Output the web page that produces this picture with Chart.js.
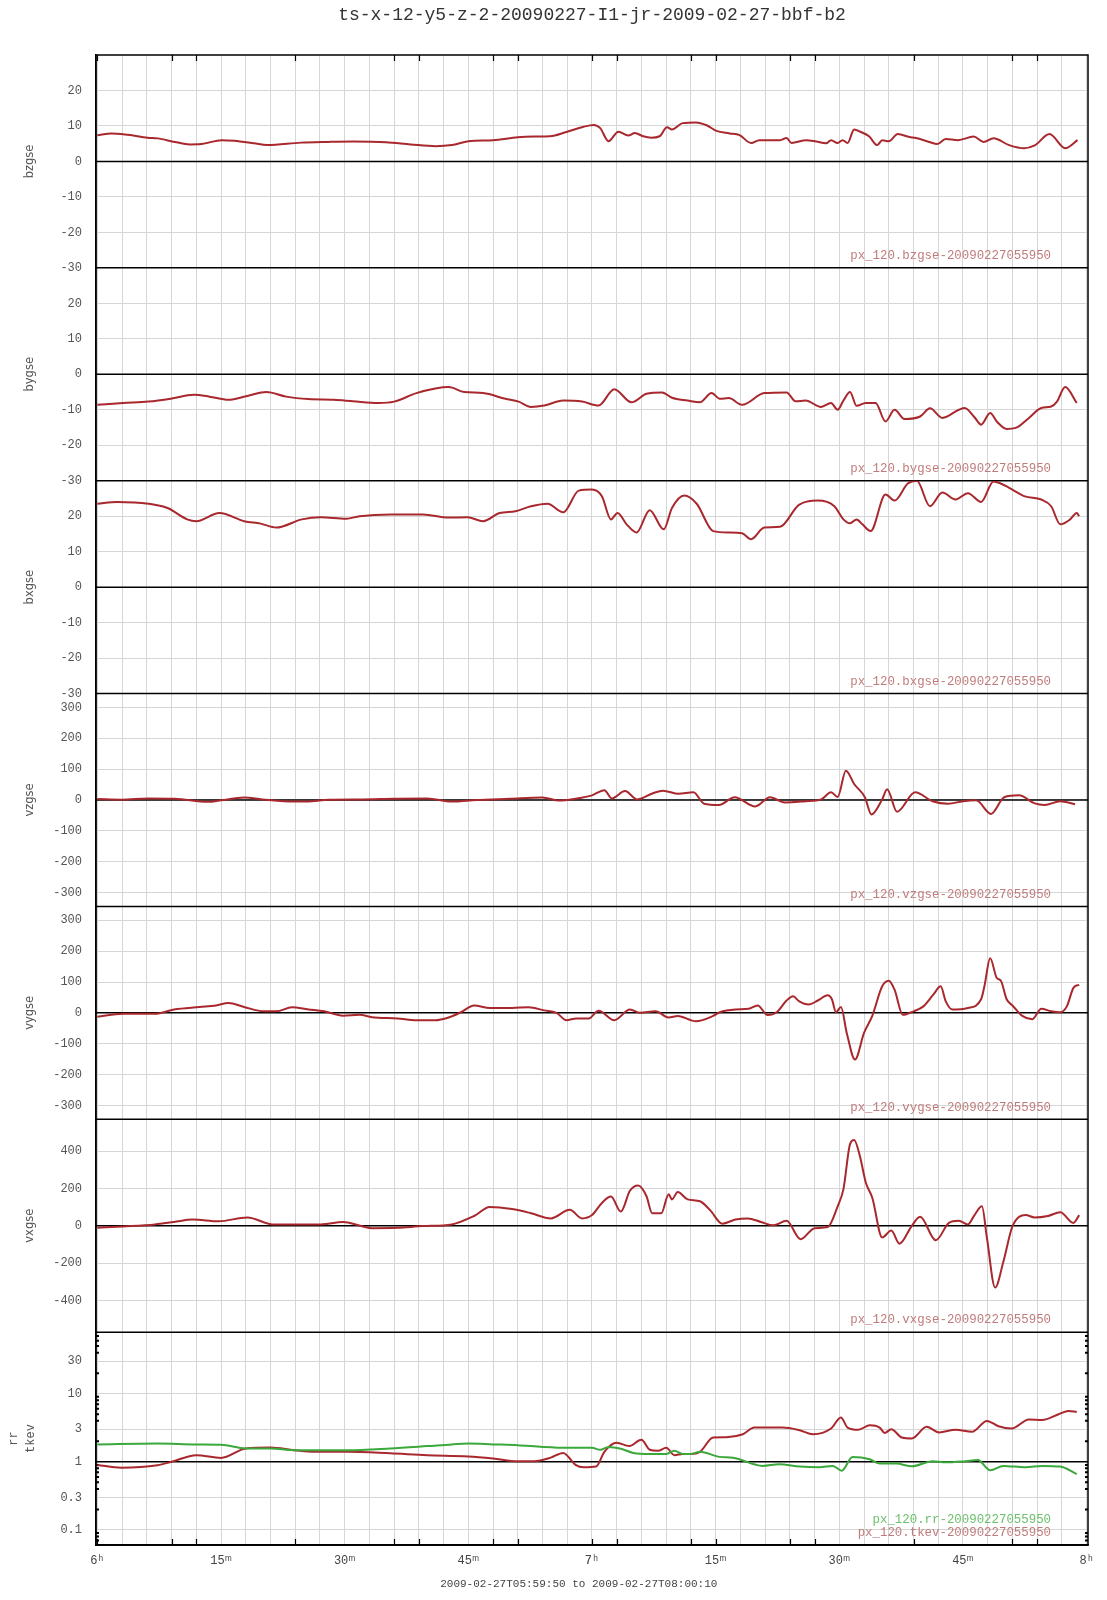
<!DOCTYPE html>
<html>
<head>
<meta charset="utf-8">
<title>ts-x-12-y5-z-2-20090227-I1-jr-2009-02-27-bbf-b2</title>
<script src="https://cdn.jsdelivr.net/npm/chart.js@4.4.1/dist/chart.umd.min.js"></script>
<style>
  body { margin: 0; background: #fff; }
  canvas { display: block; }
</style>
</head>
<body>
<canvas id="plot" width="1107" height="1600"></canvas>
<script>
// time axis: minutes after 06:00 (data runs 05:59:50 .. 08:00:10)
const gridMinutes = [];
for (let m = 0; m <= 120; m += 3) gridMinutes.push(m);
const xTickLabels = ['6ʰ', '15ᵐ', '30ᵐ', '45ᵐ', '7ʰ', '15ᵐ', '30ᵐ', '45ᵐ', '8ʰ'];
// short black marks on the top and bottom frame
const frameTickMinutes = [0, 9, 12, 24, 36, 39, 48, 51, 60, 63, 72, 75, 84, 87, 99, 111, 114];

// y tick labels per panel
const bTicks = [-30, -20, -10, 0, 10, 20];
const vzTicks = [-300, -200, -100, 0, 100, 200, 300];
const vxTicks = [-400, -200, 0, 200, 400];
const logTicks = [0.1, 0.3, 1, 3, 10, 30];
const logMinor = [0.07, 0.08, 0.09, 0.2, 0.4, 0.5, 0.6, 0.7, 0.8, 0.9, 2, 4, 5, 6, 7, 8, 9, 20, 40, 50, 60, 70];

// series, [minute, value]
const bzgse = [[0,7.4],[1.7,7.9],[3.7,7.5],[6.1,6.7],[7.3,6.5],[9.4,5.5],[11.2,4.8],[12.6,4.9],[15.1,6.0],[16.6,5.8],[19,5.1],[20.6,4.6],[24.7,5.3],[28,5.5],[31,5.6],[35,5.4],[38,4.8],[41,4.3],[43,4.6],[45,5.7],[48,6.0],[51,6.8],[53,7.0],[54.9,7.1],[56.9,8.3],[58.9,9.7],[60.2,10.3],[61,9.4],[62,5.7],[63.2,8.4],[64.4,7.3],[65.2,8.0],[66.2,7.1],[67.2,6.7],[68.2,7.1],[69.1,9.6],[69.7,9.0],[71,10.8],[72.6,11.0],[73.9,10.2],[75.1,8.6],[76.7,7.9],[77.9,7.4],[79.3,5.2],[80.3,6.0],[82.8,6.0],[83.6,6.6],[84.2,5.2],[86,6.0],[87.2,5.6],[88.4,5.1],[89,6.0],[89.8,5.2],[90.4,6.0],[91,5.2],[91.8,9.0],[92.6,8.3],[93.6,7.1],[94.6,4.6],[95.2,6.0],[96,5.7],[97.1,7.7],[98.5,6.9],[99.3,6.6],[100.9,5.5],[101.9,4.9],[102.9,6.3],[104.4,6.0],[106.3,7.0],[107.5,5.5],[108.7,6.5],[110.6,4.6],[112.4,3.7],[113.7,4.5],[115.5,7.7],[117.4,3.7],[118.9,6.0]];

const bygse = [[0,-8.6],[3.1,-8.1],[6.2,-7.7],[8.9,-6.9],[11.7,-5.8],[13.6,-6.3],[15.9,-7.2],[18.2,-6.1],[20.5,-5.0],[22.9,-6.3],[25.6,-7.0],[28.7,-7.2],[31,-7.6],[34.1,-8.1],[36,-7.7],[38.7,-5.3],[41,-4.0],[42.6,-3.6],[44.5,-5.0],[46.8,-5.3],[49.5,-6.9],[51.1,-7.7],[52.6,-9.2],[54.2,-8.8],[56.5,-7.4],[58.8,-7.7],[60.8,-8.8],[62.7,-4.2],[64.8,-7.9],[66.6,-5.5],[68.5,-5.1],[69.7,-6.6],[71.6,-7.4],[73.1,-7.9],[74.5,-5.3],[75.5,-6.9],[76.6,-6.7],[78.2,-8.6],[80.9,-5.3],[83.6,-5.1],[84.7,-7.6],[85.9,-7.4],[87.8,-9.2],[89,-8.1],[89.8,-10.0],[90.5,-7.4],[91.3,-5.0],[92.1,-8.9],[93.2,-8.1],[94.4,-8.1],[95.6,-13.3],[96.7,-10.0],[97.9,-12.6],[99.8,-11.9],[101,-9.6],[102.5,-12.3],[104.5,-10.0],[105.2,-9.5],[106.4,-12.1],[107.2,-14.2],[108.3,-10.9],[109.1,-13.3],[110.3,-15.4],[111.4,-15.1],[113,-12.3],[114.5,-9.5],[115.7,-9.1],[116.4,-7.7],[117.4,-3.6],[118.8,-8.1]];

const bxgse = [[0,23.5],[2.4,24.0],[6.2,23.5],[8.5,22.3],[10.9,19.1],[12,18.6],[14.8,20.9],[17.8,18.6],[19.8,17.9],[21.7,16.8],[24.8,19.1],[27.1,19.7],[30.2,19.3],[31.8,20.0],[35.6,20.5],[39.5,20.5],[42.6,19.6],[44.9,19.7],[46.8,18.6],[48.8,20.9],[50.7,21.4],[52.6,22.8],[54.6,23.5],[56.5,21.1],[58.4,27.2],[60,27.5],[61.2,25.6],[62.3,19.1],[63.1,20.9],[64.2,17.7],[65.4,15.4],[67,21.7],[68.7,16.3],[69.7,22.3],[71.2,25.8],[72.7,23.5],[74.7,15.8],[76.6,15.4],[78.2,15.2],[79.3,13.5],[80.9,16.8],[82.8,17.0],[85.1,23.2],[87.4,24.4],[89.4,22.8],[90.5,19.1],[91.3,18.0],[92.1,19.1],[92.8,17.7],[93.8,15.8],[95.6,26.1],[96.7,24.4],[98.3,29.2],[99.4,30.0],[101,22.8],[102.5,26.7],[104.1,24.7],[105.6,26.5],[107.2,24.0],[108.7,29.8],[109.5,29.3],[110.6,28.0],[112.5,25.6],[114.5,24.7],[115.7,22.8],[116.8,17.7],[118,19.1],[118.8,20.9],[119.1,20.0]];

const vzgse = [[0,3],[3,1],[6.1,5],[9.4,4],[13.4,-6],[15,-1],[17.8,8],[20,2],[23.9,-5],[26,-4],[28,1],[32,2],[36,4],[40,5],[43,-5],[46,0],[50,4],[54,8],[56,-2],[58,4],[60,15],[61.5,32],[62.4,5],[64,29],[65.5,2],[67.4,22],[68.6,30],[70.5,20],[72.3,25],[73.6,-12],[75.4,-16],[77.3,9],[79.8,-21],[81.6,9],[83.4,-8],[85.9,-4],[87.8,2],[89,25],[89.8,10],[90.8,95],[91.8,52],[93.1,9],[93.9,-47],[95.2,2],[95.8,35],[97,-38],[99.2,25],[101.3,-4],[103.2,-12],[105,-4],[106.6,-1],[108.4,-45],[110,9],[111.8,15],[113.7,-11],[114.9,-16],[116.8,-4],[118.6,-14]];

const vygse = [[0,-13],[3.1,-3],[7,-3],[9.3,11],[12.4,19],[14.4,24],[15.9,32],[17.8,19],[20.2,5],[21.7,5],[23.6,18],[25.6,11],[27.5,5],[29.8,-9],[31.8,-6],[33.3,-14],[36.4,-18],[38.7,-24],[41,-24],[42.6,-15],[44.1,2],[45.7,24],[47.6,16],[50.3,16],[52.3,18],[54.2,8],[55.7,0],[56.9,-24],[58.1,-18],[59.6,-18],[60.8,7],[62.7,-24],[64.6,11],[65.8,0],[67.7,5],[69.3,-15],[70.4,-10],[72.6,-27],[74.7,-10],[75.5,2],[77.4,11],[79,13],[80.1,24],[81.3,-7],[82.4,2],[83.6,40],[84.4,54],[85.1,38],[86.3,27],[87.4,40],[88.6,57],[89.1,44],[89.6,2],[90.2,19],[90.9,-65],[91.9,-151],[93,-65],[94,-10],[95.2,86],[96,104],[96.7,75],[97.7,-6],[99,5],[100.2,21],[101.4,59],[102.3,86],[102.9,38],[103.7,11],[105.6,16],[107.2,44],[107.6,86],[108.3,177],[109.1,113],[109.6,104],[110.3,44],[111,24],[112.2,-10],[113.4,-21],[114.5,13],[115.7,5],[116.8,2],[117.6,21],[118.4,81],[119.1,91]];

const vxgse = [[0,-11],[3.1,-4],[7,7],[9.3,20],[11.6,33],[14.7,24],[18.2,44],[21.3,7],[24,6],[27.1,7],[29.8,20],[33.3,-13],[36.4,-11],[39.5,-2],[43,7],[45.7,52],[47.6,100],[50.3,89],[52.6,67],[55,39],[57.3,85],[58.8,39],[60,57],[61.2,122],[62.3,156],[63.5,76],[64.6,187],[65.6,215],[66.6,159],[67.3,67],[68.4,67],[69.3,169],[69.7,141],[70.4,181],[71.6,141],[73.1,131],[74.3,85],[75.8,11],[77.4,33],[78.9,39],[80.5,20],[82,2],[83.6,26],[85.3,-72],[87,-13],[88.6,-7],[89.8,104],[90.5,196],[91.3,437],[91.8,459],[92.5,372],[93.2,233],[94,150],[95.2,-63],[96.3,-26],[97.3,-96],[98.7,-7],[99.8,48],[101.7,-78],[103.3,15],[104.5,26],[105.6,7],[106.4,57],[107.3,104],[107.9,-63],[108.9,-331],[109.9,-193],[111,-4],[112.6,57],[113.7,44],[115.3,52],[116.8,72],[118.4,15],[119.1,57]];

const tkev = [[0,0.9],[2.9,0.82],[7.3,0.89],[9,1.0],[12,1.25],[15,1.14],[18,1.57],[21,1.62],[23.9,1.48],[26.3,1.4],[30.3,1.4],[35.5,1.33],[40,1.25],[45,1.2],[48,1.12],[51,1.02],[53,1.02],[55,1.15],[56.5,1.35],[58,0.9],[59,0.83],[60.5,0.85],[61.5,1.4],[63,1.9],[64.5,1.7],[66,2.1],[67,1.5],[68,1.45],[69,1.6],[70,1.25],[71,1.3],[72,1.3],[73.1,1.4],[74.7,2.27],[76.3,2.3],[78.3,2.54],[79.7,3.18],[83.1,3.18],[85.2,2.9],[86.8,2.54],[89,3.08],[90.2,4.46],[91,3.18],[92.3,2.95],[93.7,3.44],[94.9,3.18],[95.5,2.65],[96.3,3.0],[97.6,2.27],[98.8,2.2],[100.6,3.26],[102.1,2.7],[104.1,2.95],[106.1,2.75],[107.9,3.98],[109.3,3.33],[110.9,3.08],[113,4.17],[114.6,4.1],[116.6,4.98],[117.8,5.57],[118.8,5.4]];

const rr = [[0,1.8],[7.3,1.86],[12,1.8],[15,1.78],[18,1.57],[21,1.57],[23.9,1.48],[30.3,1.48],[35.5,1.57],[40,1.7],[43,1.8],[45,1.85],[48,1.8],[51,1.75],[54,1.65],[57,1.6],[60,1.6],[61,1.5],[62,1.65],[63.5,1.55],[65,1.35],[67,1.3],[69,1.3],[70,1.45],[71,1.3],[72,1.3],[73.1,1.4],[75.5,1.18],[77.1,1.15],[80.7,0.87],[82.7,0.92],[85.2,0.85],[87.6,0.83],[89.2,0.87],[90.3,0.74],[91.6,1.18],[93.7,1.09],[94.9,0.94],[96.9,0.94],[98.8,0.86],[101.3,1.02],[102.9,0.98],[105.3,1.02],[106.8,1.06],[108.3,0.75],[109.9,0.87],[112.6,0.83],[114.6,0.87],[116.8,0.85],[118.8,0.66]];

const RED = '#a8282e';
const GREEN = '#3aa83a';
const RED_TXT = '#c07c7c';
const GREEN_TXT = '#6cbf6c';

// panels top to bottom
const panels = [
  { id: 'bz', title: 'bzgse', min: -30, max: 30, ticks: bTicks, base: 0,
    series: [{ data: bzgse, name: 'px_120.bzgse-20090227055950', color: RED, txt: RED_TXT }] },
  { id: 'by', title: 'bygse', min: -30, max: 30, ticks: bTicks, base: 0,
    series: [{ data: bygse, name: 'px_120.bygse-20090227055950', color: RED, txt: RED_TXT }] },
  { id: 'bx', title: 'bxgse', min: -30, max: 30, ticks: bTicks, base: 0,
    series: [{ data: bxgse, name: 'px_120.bxgse-20090227055950', color: RED, txt: RED_TXT }] },
  { id: 'vz', title: 'vzgse', min: -345, max: 345, ticks: vzTicks, base: 0,
    series: [{ data: vzgse, name: 'px_120.vzgse-20090227055950', color: RED, txt: RED_TXT }] },
  { id: 'vy', title: 'vygse', min: -345, max: 345, ticks: vzTicks, base: 0,
    series: [{ data: vygse, name: 'px_120.vygse-20090227055950', color: RED, txt: RED_TXT }] },
  { id: 'vx', title: 'vxgse', min: -570, max: 570, ticks: vxTicks, base: 0,
    series: [{ data: vxgse, name: 'px_120.vxgse-20090227055950', color: RED, txt: RED_TXT }] },
  { id: 'lg', title: ['rr', 'tkev'], min: 0.06, max: 80, ticks: logTicks, base: 1, log: true,
    series: [{ data: rr, name: 'px_120.rr-20090227055950', color: GREEN, txt: GREEN_TXT },
             { data: tkev, name: 'px_120.tkev-20090227055950', color: RED, txt: RED_TXT }] }
];

const scales = {
  x: {
    type: 'linear', position: 'bottom',
    min: -10 / 60, max: 120 + 10 / 60,
    afterBuildTicks: s => { s.ticks = gridMinutes.map(v => ({ value: v })); },
    afterFit: s => { s.height = 55; },
    grid: { color: '#d6d6d6', lineWidth: 1, drawTicks: false },
    border: { display: true, color: '#000', width: 1.5 },
    ticks: {
      autoSkip: false, maxRotation: 0, padding: 9, color: '#444',
      font: { family: 'Liberation Mono', size: 12 },
      callback: v => (v % 15 === 0 ? xTickLabels[v / 15] : '')
    },
    title: {
      display: true, text: '2009-02-27T05:59:50 to 2009-02-27T08:00:10    ',
      color: '#444', font: { family: 'Liberation Mono', size: 11 },
      padding: { top: 0, bottom: 9 }
    }
  }
};

panels.forEach((p, i) => {
  scales[p.id] = {
    type: p.log ? 'logarithmic' : 'linear',
    position: 'left', stack: 'panels', stackWeight: 1, weight: panels.length - i,
    min: p.min, max: p.max,
    afterBuildTicks: s => { s.ticks = p.ticks.map(v => ({ value: v })); },
    afterFit: s => { s.width = 96; },
    grid: { color: '#d6d6d6', lineWidth: 1, drawTicks: false },
    border: { display: true, color: '#000', width: 1.5 },
    ticks: {
      autoSkip: false, padding: 14, color: '#555',
      font: { family: 'Liberation Mono', size: 12 },
      callback: v => String(v)
    },
    title: p.log
      ? { display: true, text: p.title, color: '#555', font: { family: 'Liberation Mono', size: 12, lineHeight: 1.45 },
          padding: { top: 5, bottom: 0 } }
      : { display: true, text: p.title, color: '#555', font: { family: 'DejaVu Sans', size: 11.5 },
          padding: { top: 23, bottom: 0 } }
  };
});

const datasets = [];
panels.forEach(p => {
  p.series.forEach(s => {
    datasets.push({
      label: s.name,
      data: s.data.map(([t, v]) => ({ x: t, y: v })),
      xAxisID: 'x', yAxisID: p.id,
      borderColor: s.color, borderWidth: 2,
      pointRadius: 0, fill: false,
      cubicInterpolationMode: 'monotone'
    });
  });
});

// black baselines, panel separators, frame ticks and the per-panel captions
const panelLines = {
  id: 'panelLines',
  beforeDatasetsDraw(chart) {
    const ctx = chart.ctx;
    const a = chart.chartArea;
    const xs = chart.scales.x;
    ctx.save();
    ctx.strokeStyle = '#000';
    ctx.lineWidth = 1.5;
    panels.forEach(p => {
      const s = chart.scales[p.id];
      [s.getPixelForValue(p.base), s.bottom].forEach(y => {
        ctx.beginPath();
        ctx.moveTo(a.left, y);
        ctx.lineTo(a.right, y);
        ctx.stroke();
      });
    });
    ctx.strokeRect(a.left, a.top, a.width, a.height);

    ctx.lineWidth = 1.2;
    frameTickMinutes.forEach(m => {
      const x = Math.round(xs.getPixelForValue(m)) + 0.5;
      ctx.beginPath();
      ctx.moveTo(x, a.top); ctx.lineTo(x, a.top + 6);
      ctx.moveTo(x, a.bottom); ctx.lineTo(x, a.bottom - 6);
      ctx.stroke();
    });

    // minor log ticks, both sides
    const ls = chart.scales.lg;
    ctx.lineWidth = 2;
    logMinor.forEach(v => {
      const y = ls.getPixelForValue(v);
      ctx.beginPath();
      ctx.moveTo(a.left, y); ctx.lineTo(a.left + 3, y);
      ctx.moveTo(a.right, y); ctx.lineTo(a.right - 3, y);
      ctx.stroke();
    });
    ctx.restore();
  },
  afterDraw(chart) {
    const ctx = chart.ctx;
    const a = chart.chartArea;
    ctx.save();
    ctx.font = '12.4px "Liberation Mono"';
    ctx.textAlign = 'right';
    ctx.textBaseline = 'middle';
    panels.forEach(p => {
      const s = chart.scales[p.id];
      const n = p.series.length;
      p.series.forEach((ser, k) => {
        ctx.fillStyle = ser.txt;
        ctx.fillText(ser.name, a.right - 37, s.bottom - 12 - (n - 1 - k) * 13);
      });
    });
    ctx.restore();
  }
};

new Chart(document.getElementById('plot'), {
  type: 'line',
  data: { datasets },
  options: {
    responsive: false,
    animation: false,
    layout: { padding: { left: 0, right: 19, top: 0, bottom: 0 } },
    plugins: {
      legend: { display: false },
      tooltip: { enabled: false },
      title: {
        display: true, fullSize: false,
        text: 'ts-x-12-y5-z-2-20090227-I1-jr-2009-02-27-bbf-b2',
        color: '#333', font: { family: 'Liberation Mono', size: 18, weight: 'normal', lineHeight: 1 },
        padding: { top: 6, bottom: 31 }
      }
    },
    scales
  },
  plugins: [panelLines]
});
</script>
</body>
</html>
